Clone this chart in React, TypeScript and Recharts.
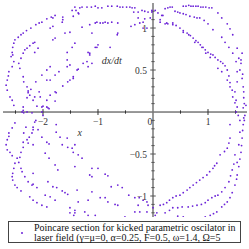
import React from 'react';
import { ScatterChart, Scatter, XAxis, YAxis, ReferenceLine, ReferenceDot } from 'recharts';

// Poincare section points (x, dx/dt)
const topLeftPts: [number, number][] = [
  [-1.47,1.21],[-1.40,1.21],[-1.35,1.17],[-1.45,1.14],[-1.78,1.15],[-1.85,1.13],[-1.93,1.11],[-2.02,1.07],[-2.07,1.06],[-2.13,1.04],[-2.22,1.00],
  [-1.64,1.10],[-1.65,1.07],[-1.82,1.02],[-1.87,1.00],[-2.36,0.94],[-2.40,0.92],[-2.51,0.86],[-2.53,0.82],[-2.55,0.77],[-2.56,0.71],[-2.55,0.68],
  [-2.53,0.60],[-2.56,0.54],[-2.62,0.48],[-2.65,0.38],[-2.67,0.32],[-2.65,0.26],[-2.60,0.18],[-2.56,0.14],[-2.53,0.08],
  [-2.15,0.83],[-2.18,0.82],[-2.24,0.79],[-2.29,0.76],[-2.33,0.74],[-2.36,0.70],[-2.40,0.64],[-2.44,0.58],[-2.42,0.52],[-2.36,0.42],[-2.35,0.36],
  [-2.29,0.30],[-2.27,0.25],[-2.24,0.20],
  [-1.78,0.88],[-1.82,0.86],[-2.09,0.76],[-2.15,0.71],[-1.51,0.95],[-1.60,0.94],[-1.47,0.77],[-1.56,0.71],[-1.87,0.54],[-1.93,0.50],[-2.02,0.44],
  [-2.13,0.36],[-1.51,0.56],[-1.56,0.54],[-1.71,0.48],[-1.45,0.42],[-1.51,0.38],[-1.38,0.50],[-1.87,0.38],[-2.07,0.24],[-2.22,0.27],[-2.27,0.23],
  [-2.29,0.17],[-2.18,0.14],[-2.15,0.18],[-1.64,0.31],[-1.76,0.23],[-1.78,0.13],[-2.11,0.07],[-2.02,0.06],[-2.00,0.07],[-1.93,0.06],[-1.89,0.04],
  [-2.36,0.06],[-2.36,0.02],[-2.35,-0.01],
  [-0.64,0.94],[-1.02,0.77],[-0.78,0.77],[-1.15,0.70],[-1.56,0.62],[-1.20,0.60],[-1.78,0.44],[-1.45,0.40],[-1.93,0.38],[-1.55,0.36],[-1.78,0.24],
  [-1.87,0.20],[-2.05,0.18],[-1.93,0.14],
  [-2.58,0.66],[-2.63,0.43],[-2.45,0.89],[-2.30,0.97],
];

const topMidPts: [number, number][] = [
  [-1.42,1.25],[-1.36,1.18],[-1.29,1.25],[-1.20,1.25],[-1.05,1.26],[-1.00,1.24],[-0.93,1.24],[-0.82,1.26],[-0.65,1.26],[-0.60,1.25],[-0.55,1.25],
  [-0.42,1.25],[-0.33,1.24],[-0.35,1.19],[-0.27,1.19],[-0.20,1.21],[-0.15,1.20],[-0.09,1.19],[-0.02,1.21],
  [-1.15,1.04],[-1.05,1.06],[-0.96,1.06],[-0.87,1.07],[-0.82,1.06],[-0.75,1.07],[-0.64,1.06],[-0.40,1.02],[-0.33,1.04],[-0.24,1.06],[-0.18,1.07],
  [-0.18,1.00],[-0.11,1.00],[-0.27,1.12],[-0.15,1.11],[-0.05,1.12],[-0.65,0.92],[-1.11,0.94],
  [-1.42,0.82],[-1.00,0.80],[-1.05,0.77],[-1.18,0.71],[-1.15,0.68],[-1.27,0.58],[-1.18,0.54],[-1.36,0.51],[-1.11,0.58],
  [-1.82,1.12],[-1.64,1.13],[-1.33,1.24],[-1.29,1.01],[-1.02,1.07],[-0.91,1.06],
  [-1.12,1.25],[-0.75,1.26],[-0.48,1.25],[-0.38,1.24],
];

const topRightPts: [number, number][] = [
  [-0.02,1.19],[0.04,1.21],[0.09,1.18],[0.18,1.15],[0.27,1.24],[0.35,1.25],[0.13,1.07],[0.22,1.05],[0.27,1.05],[0.36,1.04],
  [0.55,1.26],[0.73,1.26],[0.91,1.25],[1.07,1.24],[1.18,1.18],[1.25,1.12],[1.35,1.05],[1.40,0.99],[1.45,0.92],[1.53,0.76],[1.56,0.64],
  [1.60,0.58],[1.58,0.50],[1.62,0.40],[1.64,0.30],[1.65,0.17],[1.64,0.05],
  [0.60,1.26],[0.65,1.27],[0.69,1.26],[0.78,1.26],[0.82,1.26],[0.87,1.25],[0.96,1.25],[1.02,1.24],
  [1.62,0.70],[1.60,0.62],[1.63,0.45],[1.65,0.24],[1.66,0.10],
  [0.31,1.25],[0.22,1.23],[0.49,1.18],[0.67,1.14],[0.85,1.12],[1.00,1.05],[1.09,0.98],[1.25,0.89],[1.31,0.83],[1.38,0.77],[1.45,0.70],
  [1.51,0.60],[1.53,0.48],[1.53,0.36],[1.49,0.24],[1.51,0.14],[1.53,0.06],
  [0.40,1.20],[0.45,1.19],[0.55,1.17],[0.60,1.16],[0.75,1.13],[0.80,1.12],[0.93,1.09],
  [0.16,1.15],[0.13,1.10],[0.25,1.06],[0.36,1.06],[0.49,1.00],[0.62,0.94],[0.73,0.88],[0.82,0.83],[0.91,0.77],[1.00,0.71],[1.09,0.68],
  [1.18,0.62],[1.27,0.58],[1.35,0.50],[1.40,0.35],[1.44,0.26],[1.45,0.18],[1.49,0.11],
  [0.42,1.03],[0.55,0.97],[0.68,0.91],[0.78,0.85],[0.86,0.80],[0.95,0.74],[1.05,0.69],[1.13,0.65],[1.23,0.60],[1.31,0.55],[1.38,0.43],
  [0.55,0.95],[0.65,0.92],[0.76,0.83],[0.89,0.77],[0.96,0.70],[1.04,0.65],[1.18,0.52],[1.25,0.48],[1.35,0.38],[1.40,0.30],
];

const bottomRightPts: [number, number][] = [
  [1.67,-0.04],[1.64,-0.15],[1.62,-0.31],[1.60,-0.48],[1.56,-0.65],[1.53,-0.75],[1.49,-0.87],[1.44,-0.96],[1.35,-1.07],[1.25,-1.13],[1.16,-1.19],
  [1.04,-1.23],[0.85,-1.26],[0.67,-1.26],[0.55,-1.25],
  [1.66,-0.10],[1.63,-0.22],[1.61,-0.40],[1.58,-0.56],[1.52,-0.80],[1.40,-1.02],[1.30,-1.10],[1.10,-1.21],[0.95,-1.25],[0.76,-1.26],[0.60,-1.26],[0.45,-1.24],
  [1.58,-0.24],[1.56,-0.39],[1.49,-0.51],[1.44,-0.69],[1.38,-0.83],[1.31,-0.90],[1.18,-0.99],[1.07,-1.02],[0.95,-1.08],[0.80,-1.11],[0.64,-1.13],
  [0.53,-1.13],[0.36,-1.14],[0.22,-1.20],[0.07,-1.20],
  [1.53,-0.60],[1.47,-0.62],[1.41,-0.76],[1.25,-0.95],[1.13,-1.00],[1.00,-1.05],[0.88,-1.10],[0.72,-1.12],[0.45,-1.14],[0.30,-1.17],
  [1.40,-0.15],[1.40,-0.31],[1.35,-0.43],[1.22,-0.51],[1.16,-0.61],[1.09,-0.67],[0.98,-0.75],[0.85,-0.81],[0.73,-0.87],[0.62,-0.93],[0.49,-0.99],
  [0.36,-1.02],[0.25,-1.08],[0.13,-1.11],[0.00,-1.14],
  [1.38,-0.37],[1.30,-0.47],[1.12,-0.64],[1.03,-0.71],[0.91,-0.78],[0.79,-0.84],[0.67,-0.90],[0.55,-0.96],[0.42,-1.00],[0.30,-1.05],[0.19,-1.10],
  [1.69,0.08],[1.65,-0.07],[1.55,-0.04],[1.58,-0.10],[1.51,0.00],[0.04,-1.23],
];

const bottomMidPts: [number, number][] = [
  [-1.42,-0.39],[-1.36,-0.51],[-1.29,-0.55],[-1.42,-0.65],[-1.11,-0.67],[-1.00,-0.67],[-1.15,-0.75],[-1.11,-0.77],[-0.87,-0.74],[-0.82,-0.76],
  [-0.76,-0.89],[-0.64,-0.87],[-0.56,-0.90],[-1.11,-0.95],[-0.96,-1.02],[-0.87,-1.02],[-0.82,-1.07],[-0.69,-1.10],[-0.64,-1.11],[-0.44,-0.99],
  [-0.33,-1.02],[-0.25,-1.02],[-0.18,-1.05],[-0.11,-1.07],[-0.09,-1.11],[-0.27,-1.11],[-0.24,-1.19],[-0.11,-1.19],[-0.33,-1.19],[-0.51,-1.25],
  [-0.60,-1.26],[-0.69,-1.26],[-0.82,-1.26],[-1.05,-1.23],[-1.18,-1.23],[-1.24,-1.19],[-1.42,-1.20],[-1.18,-1.05],[-1.36,-1.07],[-1.38,-0.93],
];

const bottomLeftPts: [number, number][] = [
  [-2.51,-0.13],[-2.56,-0.19],[-2.62,-0.25],[-2.65,-0.33],[-2.67,-0.39],[-2.65,-0.45],[-2.60,-0.48],[-2.47,-0.55],[-2.51,-0.61],[-2.53,-0.67],
  [-2.55,-0.73],[-2.56,-0.77],[-2.55,-0.81],[-2.51,-0.87],[-2.47,-0.90],[-2.40,-0.94],[-2.62,-0.29],[-2.56,-0.52],
  [-2.31,-0.18],[-2.35,-0.25],[-2.36,-0.36],[-2.36,-0.42],[-2.40,-0.48],[-2.42,-0.54],[-2.44,-0.60],[-2.40,-0.67],[-2.38,-0.71],[-2.33,-0.77],
  [-2.27,-0.83],[-2.20,-0.87],[-2.18,-0.86],[-2.11,-0.90],
  [-2.18,-0.21],[-2.20,-0.25],[-2.25,-0.30],[-2.29,-0.33],[-2.27,-0.37],[-2.18,-0.39],[-2.02,-0.30],[-1.93,-0.36],[-1.89,-0.38],[-1.96,-0.49],
  [-1.89,-0.55],[-1.78,-0.63],[-1.73,-0.69],[-2.18,-0.73],[-1.91,-0.83],[-1.82,-0.89],[-1.75,-0.90],[-1.65,-0.94],[-1.60,-0.96],[-1.55,-0.98],
  [-1.96,-0.99],[-1.87,-1.01],[-1.78,-1.05],[-2.24,-1.01],[-2.18,-1.05],[-2.11,-1.08],[-2.02,-1.11],[-1.93,-1.13],[-1.51,-1.14],[-1.42,-1.17],
  [-1.51,-1.20],[-1.44,-1.23],
  [-2.29,0.00],[-2.20,-0.01],[-2.13,-0.10],[-2.15,-0.12],[-2.18,-0.18],[-2.09,-0.21],[-2.02,0.00],[-2.00,-0.04],[-1.91,0.05],[-1.76,-0.15],
  [-1.76,-0.24],[-1.69,-0.30],[-1.56,-0.31],[-1.65,-0.39],[-1.55,-0.42],[-1.47,-0.43],[-1.45,-0.48],[-2.38,0.00],
];

// axis ticks and labels
const xTickLabels = [-2, -1, 1];
const xMinorTicks = [-2.5, -1.5, -0.5, 0.5, 1.5];
const yTickLabels = [-1, -0.5, 0.5, 1];
const yMinorTicks = [-1.2, -1.1, -0.9, -0.8, -0.7, -0.6, -0.4, -0.3, -0.2, -0.1, 0.1, 0.2, 0.3, 0.4, 0.6, 0.7, 0.8, 0.9, 1.1, 1.2];

const legendLines = [
  'Poincare section for kicked parametric oscilator in',
  'laser field (\u03b3=\u03bc=0, \u03b1=0.25, F=0.5, \u03c9=1.4, \u03a9=5',
];

const POINT_COLOR = '#6b22d8';
const FONT = "'Liberation Serif', 'DejaVu Serif', serif";

const allPts = [...topLeftPts, ...topMidPts, ...topRightPts, ...bottomRightPts, ...bottomMidPts, ...bottomLeftPts].map(
  ([x, y]) => ({ x, y })
);

const fmt = (v: number) => (v < 0 ? '\u2212' + String(-v) : String(v));

const PointShape = (props: any) => {
  const { cx, cy } = props;
  if (cx == null || cy == null) return null;
  return <circle cx={cx} cy={cy} r={0.9} fill={POINT_COLOR} />;
};

const textLabel = (text: string, dx: number, dy: number, anchor: string, extra: any = {}) => (p: any) => {
  const vb = p.viewBox || {};
  const cx = (vb.x ?? 0) + (vb.width ?? 0) / 2;
  const cy = (vb.y ?? 0) + (vb.height ?? 0) / 2;
  return (
    <text x={cx + dx} y={cy + dy} textAnchor={anchor} fontFamily={FONT} fontSize={9.5} fill="#333" {...extra}>
      {text}
    </text>
  );
};

export default function App() {
  return (
    <div style={{ position: 'absolute', left: 0, top: 0, width: 249, height: 249, background: '#fff' }}>
      <ScatterChart width={249} height={249} margin={{ top: 3, right: 2, bottom: 32, left: 3 }}>
        <XAxis type="number" dataKey="x" domain={[-2.727, 1.709]} hide allowDataOverflow />
        <YAxis type="number" dataKey="y" domain={[-1.25, 1.298]} hide allowDataOverflow />
        <ReferenceLine y={0} stroke="#333" strokeWidth={1} />
        <ReferenceLine x={0} stroke="#777" strokeWidth={1.5} />
        {xMinorTicks.map((t) => (
          <ReferenceLine key={'xm' + t} segment={[{ x: t, y: -0.02 }, { x: t, y: 0.02 }]} stroke="#333" />
        ))}
        {xTickLabels.map((t) => (
          <ReferenceLine key={'xt' + t} segment={[{ x: t, y: -0.035 }, { x: t, y: 0.035 }]} stroke="#333" />
        ))}
        {yMinorTicks.map((t) => (
          <ReferenceLine key={'ym' + t} segment={[{ x: -0.03, y: t }, { x: 0.03, y: t }]} stroke="#555" />
        ))}
        {yTickLabels.map((t) => (
          <ReferenceLine key={'yt' + t} segment={[{ x: -0.05, y: t }, { x: 0.05, y: t }]} stroke="#555" />
        ))}
        <Scatter data={allPts} fill={POINT_COLOR} shape={PointShape} isAnimationActive={false} />
        {xTickLabels.map((t) => (
          <ReferenceDot key={'xl' + t} x={t} y={0} r={1} fill="none" stroke="none" label={textLabel(fmt(t), 0, 13, 'middle')} />
        ))}
        <ReferenceDot x={0} y={0} r={1} fill="none" stroke="none" label={textLabel('0', -3, 13, 'middle')} />
        {yTickLabels.map((t) => (
          <ReferenceDot key={'yl' + t} x={0} y={t} r={1} fill="none" stroke="none" label={textLabel(fmt(t), -6, 3.5, 'end')} />
        ))}
        <ReferenceDot x={-1.33} y={-0.25} r={1} fill="none" stroke="none" label={textLabel('x', 0, 3, 'middle', { fontStyle: 'italic', fontSize: 10 })} />
        <ReferenceDot x={-0.75} y={0.61} r={1} fill="none" stroke="none" label={textLabel('dx/dt', 0, 3, 'middle', { fontStyle: 'italic', fontSize: 10 })} />
      </ScatterChart>
      <div
        style={{
          position: 'absolute',
          left: 8,
          top: 221,
          width: 231,
          height: 20,
          border: '1px solid #444',
          background: '#fff',
          fontFamily: FONT,
          fontSize: 10,
          lineHeight: '10px',
          color: '#111',
        }}
      >
        <div style={{ position: 'absolute', left: 12, top: 10, width: 2, height: 2, borderRadius: 1, background: POINT_COLOR }} />
        <div style={{ position: 'absolute', left: 25, top: 1, whiteSpace: 'nowrap' }}>
          {legendLines.map((l) => (
            <div key={l}>{l}</div>
          ))}
        </div>
      </div>
    </div>
  );
}
